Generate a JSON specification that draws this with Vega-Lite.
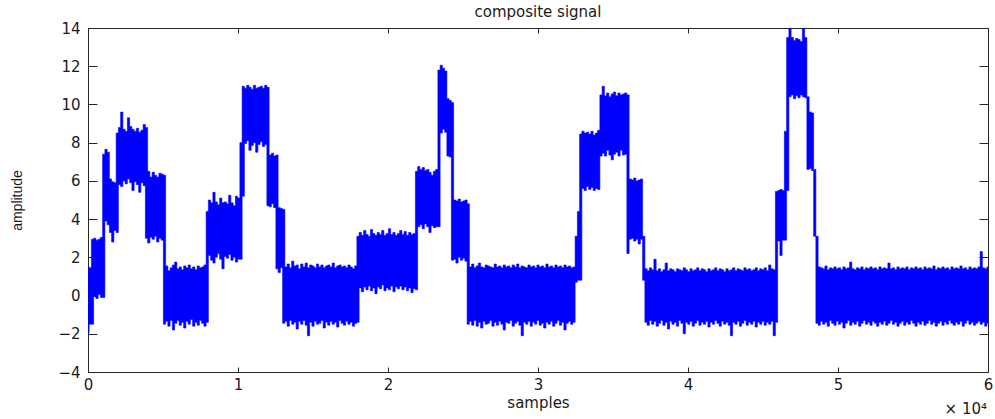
{
"$schema": "https://vega.github.io/schema/vega-lite/v6.json",
"width": 900,
"height": 344,
"autosize": "none",
"padding": {"left": 88, "top": 28, "right": 7, "bottom": 47},
"background": "white",
"config": {"view": {"stroke": "#262626", "strokeWidth": 1}, "font": "DejaVu Sans"},
"title": {"text": "composite signal", "fontSize": 15, "fontWeight": "normal", "color": "#1a1a1a", "font": "DejaVu Sans", "offset": 1, "anchor": "middle"},
"data": {"values": [
{"s":0,"l":-1.95,"h":1.5},{"s":150,"l":-1.5,"h":1.45},
{"s":300,"l":-1.5,"h":2.95},{"s":450,"l":-0.05,"h":3.0},{"s":600,"l":-0.15,"h":2.9},{"s":750,"l":0.05,"h":2.95},{"s":900,"l":-0.1,"h":3.05},
{"s":1050,"l":-0.1,"h":7.4},{"s":1200,"l":3.9,"h":7.65},{"s":1350,"l":3.7,"h":7.5},
{"s":1500,"l":3.3,"h":6.1},{"s":1650,"l":2.8,"h":5.95},{"s":1800,"l":3.4,"h":5.9},
{"s":1950,"l":3.3,"h":8.5},{"s":2100,"l":5.8,"h":8.8},{"s":2250,"l":5.7,"h":9.6},{"s":2400,"l":6.0,"h":8.7},{"s":2550,"l":5.85,"h":8.6},{"s":2700,"l":6.1,"h":9.3},{"s":2850,"l":5.9,"h":8.85},{"s":3000,"l":5.5,"h":8.7},{"s":3150,"l":5.95,"h":8.6},{"s":3300,"l":5.8,"h":8.75},{"s":3450,"l":5.4,"h":8.55},{"s":3600,"l":5.9,"h":8.65},{"s":3750,"l":5.75,"h":8.95},
{"s":3900,"l":3.0,"h":8.8},{"s":4050,"l":2.75,"h":6.5},{"s":4200,"l":3.05,"h":6.2},{"s":4350,"l":2.95,"h":6.45},{"s":4500,"l":3.1,"h":6.3},{"s":4650,"l":2.8,"h":6.2},{"s":4800,"l":3.0,"h":6.4},{"s":4950,"l":2.9,"h":6.35},
{"s":5100,"l":-1.5,"h":6.3},{"s":5250,"l":-1.35,"h":1.55},{"s":5400,"l":-1.6,"h":1.3},{"s":5550,"l":-1.3,"h":1.45},{"s":5700,"l":-1.8,"h":1.6},{"s":5850,"l":-1.45,"h":1.75},{"s":6000,"l":-1.3,"h":1.4},{"s":6150,"l":-1.55,"h":1.5},{"s":6300,"l":-1.4,"h":1.35},{"s":6450,"l":-1.7,"h":1.55},{"s":6600,"l":-1.35,"h":1.45},{"s":6750,"l":-1.5,"h":1.6},{"s":6900,"l":-1.25,"h":1.4},{"s":7050,"l":-1.6,"h":1.5},{"s":7200,"l":-1.4,"h":1.35},{"s":7350,"l":-1.55,"h":1.55},{"s":7500,"l":-1.3,"h":1.45},{"s":7650,"l":-1.45,"h":1.5},{"s":7800,"l":-1.6,"h":1.6},
{"s":7950,"l":-1.4,"h":4.4},{"s":8100,"l":2.1,"h":5.0},{"s":8250,"l":1.85,"h":4.85},{"s":8400,"l":1.7,"h":5.4},{"s":8550,"l":2.0,"h":4.9},{"s":8700,"l":2.2,"h":4.75},{"s":8850,"l":1.9,"h":5.1},{"s":9000,"l":1.4,"h":4.85},{"s":9150,"l":2.05,"h":4.9},{"s":9300,"l":1.95,"h":4.8},{"s":9450,"l":2.15,"h":5.25},{"s":9600,"l":1.85,"h":4.85},{"s":9750,"l":2.0,"h":4.7},{"s":9900,"l":1.75,"h":5.2},{"s":10050,"l":1.9,"h":5.1},
{"s":10200,"l":1.9,"h":8.0},
{"s":10350,"l":5.2,"h":10.95},{"s":10500,"l":7.95,"h":10.85},{"s":10650,"l":8.1,"h":11.0},{"s":10800,"l":7.6,"h":10.9},{"s":10950,"l":7.85,"h":10.8},{"s":11100,"l":8.0,"h":11.0},{"s":11250,"l":7.5,"h":10.85},{"s":11400,"l":7.9,"h":10.9},{"s":11550,"l":8.05,"h":10.95},{"s":11700,"l":7.8,"h":10.85},{"s":11850,"l":7.9,"h":11.0},
{"s":12000,"l":4.7,"h":10.9},{"s":12150,"l":4.65,"h":7.35},{"s":12300,"l":4.8,"h":7.45},{"s":12450,"l":4.6,"h":7.3},
{"s":12600,"l":1.4,"h":7.35},{"s":12750,"l":1.2,"h":4.6},{"s":12900,"l":1.45,"h":4.55},
{"s":13050,"l":-1.45,"h":4.5},{"s":13200,"l":-1.35,"h":1.5},{"s":13350,"l":-1.6,"h":1.65},{"s":13500,"l":-1.3,"h":1.45},{"s":13650,"l":-1.5,"h":1.8},{"s":13800,"l":-1.4,"h":1.55},{"s":13950,"l":-1.75,"h":1.6},{"s":14100,"l":-1.35,"h":1.4},{"s":14250,"l":-1.5,"h":1.65},{"s":14400,"l":-1.3,"h":1.5},{"s":14550,"l":-1.55,"h":1.7},{"s":14700,"l":-2.1,"h":1.45},{"s":14850,"l":-1.4,"h":1.6},{"s":15000,"l":-1.6,"h":1.55},{"s":15150,"l":-1.35,"h":1.45},{"s":15300,"l":-1.5,"h":1.65},{"s":15450,"l":-1.45,"h":1.5},{"s":15600,"l":-1.3,"h":1.6},{"s":15750,"l":-1.7,"h":1.45},{"s":15900,"l":-1.4,"h":1.55},{"s":16050,"l":-1.55,"h":1.6},{"s":16200,"l":-1.35,"h":1.5},{"s":16350,"l":-1.5,"h":1.7},{"s":16500,"l":-1.4,"h":1.45},{"s":16650,"l":-1.65,"h":1.55},{"s":16800,"l":-1.3,"h":1.6},{"s":16950,"l":-1.45,"h":1.5},{"s":17100,"l":-1.55,"h":1.55},{"s":17250,"l":-1.35,"h":1.45},{"s":17400,"l":-1.5,"h":1.6},{"s":17550,"l":-1.4,"h":1.5},{"s":17700,"l":-1.6,"h":1.4},{"s":17850,"l":-1.45,"h":1.55},
{"s":18000,"l":-1.4,"h":3.1},{"s":18150,"l":0.4,"h":3.3},{"s":18300,"l":0.2,"h":3.15},{"s":18450,"l":0.45,"h":3.4},{"s":18600,"l":0.3,"h":3.2},{"s":18750,"l":0.5,"h":3.1},{"s":18900,"l":0.25,"h":3.45},{"s":19050,"l":0.4,"h":3.25},{"s":19200,"l":0.1,"h":3.15},{"s":19350,"l":0.45,"h":3.3},{"s":19500,"l":0.35,"h":3.2},{"s":19650,"l":0.55,"h":3.4},{"s":19800,"l":0.25,"h":3.15},{"s":19950,"l":0.4,"h":3.25},{"s":20100,"l":0.3,"h":3.5},{"s":20250,"l":0.5,"h":3.2},{"s":20400,"l":0.2,"h":3.3},{"s":20550,"l":0.45,"h":3.15},{"s":20700,"l":0.35,"h":3.25},{"s":20850,"l":0.5,"h":3.4},{"s":21000,"l":0.3,"h":3.2},{"s":21150,"l":0.45,"h":3.35},{"s":21300,"l":0.25,"h":3.15},{"s":21450,"l":0.4,"h":3.3},{"s":21600,"l":0.15,"h":3.2},{"s":21750,"l":0.35,"h":3.25},
{"s":21900,"l":0.3,"h":6.5},{"s":22050,"l":3.6,"h":6.75},{"s":22200,"l":3.7,"h":6.6},{"s":22350,"l":3.5,"h":6.7},{"s":22500,"l":3.75,"h":6.55},{"s":22650,"l":3.6,"h":6.6},{"s":22800,"l":3.3,"h":6.45},{"s":22950,"l":3.65,"h":6.3},{"s":23100,"l":3.55,"h":6.5},{"s":23250,"l":3.6,"h":6.6},
{"s":23400,"l":3.6,"h":11.8},{"s":23550,"l":8.5,"h":12.05},{"s":23700,"l":8.7,"h":11.9},{"s":23850,"l":8.55,"h":11.75},
{"s":24000,"l":7.3,"h":10.3},{"s":24150,"l":7.25,"h":10.2},
{"s":24300,"l":1.85,"h":10.1},{"s":24450,"l":1.9,"h":5.0},{"s":24600,"l":1.7,"h":4.95},{"s":24750,"l":2.0,"h":5.05},{"s":24900,"l":1.85,"h":4.9},{"s":25050,"l":1.95,"h":4.95},{"s":25200,"l":1.8,"h":5.0},
{"s":25350,"l":-1.5,"h":4.8},{"s":25500,"l":-1.35,"h":1.5},{"s":25650,"l":-1.55,"h":1.65},{"s":25800,"l":-1.3,"h":1.45},{"s":25950,"l":-1.6,"h":1.55},{"s":26100,"l":-1.4,"h":1.7},{"s":26250,"l":-1.7,"h":1.5},{"s":26400,"l":-1.35,"h":1.45},{"s":26550,"l":-1.5,"h":1.6},{"s":26700,"l":-1.45,"h":1.55},{"s":26850,"l":-1.3,"h":1.5},{"s":27000,"l":-1.6,"h":1.45},{"s":27150,"l":-1.4,"h":1.65},{"s":27300,"l":-1.55,"h":1.5},{"s":27450,"l":-1.35,"h":1.55},{"s":27600,"l":-1.5,"h":1.45},{"s":27750,"l":-1.8,"h":1.6},{"s":27900,"l":-1.4,"h":1.5},{"s":28050,"l":-1.45,"h":1.55},{"s":28200,"l":-1.3,"h":1.45},{"s":28350,"l":-1.6,"h":1.6},{"s":28500,"l":-1.45,"h":1.5},{"s":28650,"l":-1.35,"h":1.65},{"s":28800,"l":-1.55,"h":1.45},{"s":28950,"l":-2.1,"h":1.55},{"s":29100,"l":-1.4,"h":1.5},{"s":29250,"l":-1.5,"h":1.45},{"s":29400,"l":-1.35,"h":1.6},{"s":29550,"l":-1.6,"h":1.5},{"s":29700,"l":-1.4,"h":1.55},{"s":29850,"l":-1.5,"h":1.45},{"s":30000,"l":-1.3,"h":1.6},{"s":30150,"l":-1.55,"h":1.5},{"s":30300,"l":-1.45,"h":1.55},{"s":30450,"l":-1.7,"h":1.45},{"s":30600,"l":-1.4,"h":1.65},{"s":30750,"l":-1.5,"h":1.5},{"s":30900,"l":-1.35,"h":1.55},{"s":31050,"l":-1.6,"h":1.45},{"s":31200,"l":-1.45,"h":1.6},{"s":31350,"l":-1.3,"h":1.5},{"s":31500,"l":-1.55,"h":1.55},{"s":31650,"l":-1.4,"h":1.45},{"s":31800,"l":-1.8,"h":1.6},{"s":31950,"l":-1.45,"h":1.5},{"s":32100,"l":-1.35,"h":1.55},{"s":32250,"l":-1.5,"h":1.45},{"s":32400,"l":-1.4,"h":1.5},
{"s":32550,"l":0.7,"h":3.1},{"s":32700,"l":0.8,"h":4.4},
{"s":32850,"l":0.8,"h":8.45},{"s":33000,"l":5.6,"h":8.6},{"s":33150,"l":5.5,"h":8.5},{"s":33300,"l":5.7,"h":8.55},{"s":33450,"l":5.55,"h":8.45},{"s":33600,"l":5.65,"h":8.6},{"s":33750,"l":5.5,"h":8.4},{"s":33900,"l":5.6,"h":8.5},{"s":34050,"l":5.55,"h":8.65},
{"s":34200,"l":7.3,"h":10.5},{"s":34350,"l":7.45,"h":10.95},{"s":34500,"l":7.3,"h":10.45},{"s":34650,"l":7.6,"h":10.6},{"s":34800,"l":7.35,"h":10.4},{"s":34950,"l":7.1,"h":10.55},{"s":35100,"l":7.4,"h":10.65},{"s":35250,"l":7.5,"h":10.45},{"s":35400,"l":7.3,"h":10.6},{"s":35550,"l":7.6,"h":10.5},{"s":35700,"l":7.35,"h":10.55},{"s":35850,"l":7.4,"h":10.6},
{"s":36000,"l":2.2,"h":10.5},{"s":36150,"l":2.95,"h":6.1},{"s":36300,"l":3.0,"h":6.05},{"s":36450,"l":2.85,"h":6.15},{"s":36600,"l":2.95,"h":6.0},{"s":36750,"l":2.7,"h":6.05},{"s":36900,"l":2.95,"h":6.1},
{"s":37050,"l":0.8,"h":3.1},
{"s":37200,"l":-1.4,"h":1.4},{"s":37350,"l":-1.55,"h":1.3},{"s":37500,"l":-1.3,"h":1.45},{"s":37650,"l":-1.5,"h":1.35},{"s":37800,"l":-1.35,"h":1.9},{"s":37950,"l":-1.6,"h":1.3},{"s":38100,"l":-1.45,"h":1.4},{"s":38250,"l":-1.3,"h":1.25},{"s":38400,"l":-1.55,"h":1.35},{"s":38550,"l":-1.4,"h":1.7},{"s":38700,"l":-1.75,"h":1.3},{"s":38850,"l":-1.35,"h":1.4},{"s":39000,"l":-1.5,"h":1.35},{"s":39150,"l":-1.4,"h":1.25},{"s":39300,"l":-1.6,"h":1.4},{"s":39450,"l":-1.3,"h":1.35},{"s":39600,"l":-1.45,"h":1.3},{"s":39750,"l":-2.0,"h":1.45},{"s":39900,"l":-1.4,"h":1.35},{"s":40050,"l":-1.5,"h":1.25},{"s":40200,"l":-1.35,"h":1.4},{"s":40350,"l":-1.6,"h":1.3},{"s":40500,"l":-1.45,"h":1.35},{"s":40650,"l":-1.3,"h":1.45},{"s":40800,"l":-1.55,"h":1.3},{"s":40950,"l":-1.4,"h":1.4},{"s":41100,"l":-1.5,"h":1.35},{"s":41250,"l":-1.35,"h":1.25},{"s":41400,"l":-1.65,"h":1.4},{"s":41550,"l":-1.4,"h":1.3},{"s":41700,"l":-1.5,"h":1.35},{"s":41850,"l":-1.3,"h":1.45},{"s":42000,"l":-1.45,"h":1.3},{"s":42150,"l":-1.6,"h":1.4},{"s":42300,"l":-1.35,"h":1.35},{"s":42450,"l":-1.5,"h":1.25},{"s":42600,"l":-1.4,"h":1.4},{"s":42750,"l":-1.55,"h":1.3},{"s":42900,"l":-2.1,"h":1.35},{"s":43050,"l":-1.4,"h":1.45},{"s":43200,"l":-1.5,"h":1.3},{"s":43350,"l":-1.35,"h":1.4},{"s":43500,"l":-1.6,"h":1.35},{"s":43650,"l":-1.45,"h":1.3},{"s":43800,"l":-1.3,"h":1.45},{"s":43950,"l":-1.55,"h":1.35},{"s":44100,"l":-1.4,"h":1.4},{"s":44250,"l":-1.5,"h":1.3},{"s":44400,"l":-1.35,"h":1.35},{"s":44550,"l":-1.65,"h":1.45},{"s":44700,"l":-1.4,"h":1.3},{"s":44850,"l":-1.5,"h":1.4},{"s":45000,"l":-1.35,"h":1.35},{"s":45150,"l":-1.55,"h":1.45},{"s":45300,"l":-1.4,"h":1.3},{"s":45450,"l":-1.5,"h":1.6},{"s":45600,"l":-1.35,"h":1.4},{"s":45750,"l":-2.1,"h":1.35},
{"s":45900,"l":-1.4,"h":5.45},{"s":46050,"l":2.85,"h":5.5},{"s":46200,"l":2.1,"h":5.55},{"s":46350,"l":2.9,"h":5.5},
{"s":46500,"l":2.9,"h":8.6},
{"s":46650,"l":5.5,"h":13.5},{"s":46800,"l":10.4,"h":14.0},{"s":46950,"l":10.5,"h":13.5},{"s":47100,"l":10.3,"h":13.35},{"s":47250,"l":10.45,"h":13.45},{"s":47400,"l":10.35,"h":13.4},{"s":47550,"l":10.5,"h":13.3},{"s":47700,"l":10.4,"h":14.0},{"s":47850,"l":10.35,"h":13.5},
{"s":48000,"l":6.6,"h":10.4},{"s":48150,"l":6.65,"h":9.6},{"s":48300,"l":6.55,"h":9.55},
{"s":48450,"l":3.1,"h":6.6},
{"s":48600,"l":-1.45,"h":3.1},{"s":48750,"l":-1.55,"h":1.5},{"s":48900,"l":-1.35,"h":1.45},{"s":49050,"l":-1.5,"h":1.4},{"s":49200,"l":-1.4,"h":1.55},{"s":49350,"l":-1.6,"h":1.35},{"s":49500,"l":-1.3,"h":1.45},{"s":49650,"l":-1.45,"h":1.4},{"s":49800,"l":-1.55,"h":1.5},{"s":49950,"l":-1.35,"h":1.4},{"s":50100,"l":-1.5,"h":1.45},{"s":50250,"l":-1.4,"h":1.35},{"s":50400,"l":-1.7,"h":1.5},{"s":50550,"l":-1.45,"h":1.4},{"s":50700,"l":-1.3,"h":1.45},{"s":50850,"l":-1.55,"h":1.75},{"s":51000,"l":-1.4,"h":1.4},{"s":51150,"l":-1.5,"h":1.35},{"s":51300,"l":-1.35,"h":1.45},{"s":51450,"l":-1.6,"h":1.4},{"s":51600,"l":-1.45,"h":1.5},{"s":51750,"l":-1.3,"h":1.35},{"s":51900,"l":-1.5,"h":1.45},{"s":52050,"l":-1.4,"h":1.4},{"s":52200,"l":-1.55,"h":1.5},{"s":52350,"l":-1.35,"h":1.4},{"s":52500,"l":-1.45,"h":1.45},{"s":52650,"l":-1.6,"h":1.35},{"s":52800,"l":-1.4,"h":1.5},{"s":52950,"l":-1.5,"h":1.4},{"s":53100,"l":-1.35,"h":1.45},{"s":53250,"l":-1.55,"h":1.4},{"s":53400,"l":-1.45,"h":1.7},{"s":53550,"l":-1.3,"h":1.4},{"s":53700,"l":-1.5,"h":1.45},{"s":53850,"l":-1.4,"h":1.35},{"s":54000,"l":-1.6,"h":1.5},{"s":54150,"l":-1.45,"h":1.4},{"s":54300,"l":-1.35,"h":1.45},{"s":54450,"l":-1.55,"h":1.4},{"s":54600,"l":-1.4,"h":1.5},{"s":54750,"l":-1.5,"h":1.35},{"s":54900,"l":-1.3,"h":1.45},{"s":55050,"l":-1.45,"h":1.4},{"s":55200,"l":-1.6,"h":1.5},{"s":55350,"l":-1.4,"h":1.4},{"s":55500,"l":-1.5,"h":1.45},{"s":55650,"l":-1.35,"h":1.35},{"s":55800,"l":-1.55,"h":1.5},{"s":55950,"l":-1.45,"h":1.4},{"s":56100,"l":-1.3,"h":1.45},{"s":56250,"l":-1.5,"h":1.4},{"s":56400,"l":-1.4,"h":1.55},{"s":56550,"l":-1.6,"h":1.35},{"s":56700,"l":-1.45,"h":1.45},{"s":56850,"l":-1.35,"h":1.4},{"s":57000,"l":-1.55,"h":1.5},{"s":57150,"l":-1.4,"h":1.4},{"s":57300,"l":-1.5,"h":1.45},{"s":57450,"l":-1.3,"h":1.35},{"s":57600,"l":-1.45,"h":1.5},{"s":57750,"l":-1.55,"h":1.4},{"s":57900,"l":-1.4,"h":1.45},{"s":58050,"l":-1.5,"h":1.4},{"s":58200,"l":-1.35,"h":1.55},{"s":58350,"l":-1.6,"h":1.4},{"s":58500,"l":-1.45,"h":1.45},{"s":58650,"l":-1.3,"h":1.35},{"s":58800,"l":-1.5,"h":1.5},{"s":58950,"l":-1.4,"h":1.4},{"s":59100,"l":-1.55,"h":1.45},{"s":59250,"l":-1.45,"h":1.4},{"s":59400,"l":-1.35,"h":1.5},{"s":59550,"l":-1.5,"h":2.3},{"s":59700,"l":-1.4,"h":1.45},{"s":59850,"l":-1.6,"h":1.4},{"s":60000,"l":-1.45,"h":1.5}
]},
"layer": [
{
"mark": {"type": "area", "color": "#0000ff", "interpolate": "step", "clip": true, "opacity": 1, "stroke": "#0000ff", "strokeWidth": 0.6},
"encoding": {
"x": {"field": "s", "type": "quantitative", "scale": {"domain": [0, 60000], "nice": false, "zero": false},
"axis": {"orient": "bottom", "values": [0,10000,20000,30000,40000,50000,60000], "labelExpr": "datum.value / 10000", "tickSize": -5, "tickColor": "#262626", "domain": false, "grid": false, "labelFlush": false, "labelPadding": 10, "labelFontSize": 15, "labelColor": "#1a1a1a", "labelFont": "DejaVu Sans", "title": "samples", "titleFont": "DejaVu Sans", "titleFontSize": 15, "titleFontWeight": "normal", "titleColor": "#1a1a1a", "titlePadding": 3}},
"y": {"field": "l", "type": "quantitative", "scale": {"domain": [-4, 14], "nice": false, "zero": false},
"axis": {"orient": "left", "values": [-4,-2,0,2,4,6,8,10,12,14], "tickSize": -9, "tickColor": "#262626", "domain": false, "grid": false, "labelFlush": false, "labelPadding": 17, "labelFontSize": 15, "labelColor": "#1a1a1a", "labelFont": "DejaVu Sans", "title": "amplitude", "titleFont": "Liberation Sans", "titleFontSize": 14, "titleFontWeight": "normal", "titleColor": "#1a1a1a", "titlePadding": 33}},
"y2": {"field": "h"}
}
},
{
"data": {"values": [{}]},
"mark": {"type": "text", "text": "× 10⁴", "align": "right", "baseline": "middle", "dx": -1, "dy": 37, "fontSize": 15, "font": "DejaVu Sans", "color": "#1a1a1a"},
"encoding": {
"x": {"datum": 60000, "type": "quantitative", "axis": {"orient": "top", "values": [0,10000,20000,30000,40000,50000,60000], "tickSize": -5, "tickColor": "#262626", "labels": false, "domain": false, "grid": false, "title": null}},
"y": {"datum": -4, "type": "quantitative", "axis": {"orient": "right", "values": [-4,-2,0,2,4,6,8,10,12,14], "tickSize": -9, "tickColor": "#262626", "labels": false, "domain": false, "grid": false, "title": null}}
}
}
],
"resolve": {"axis": {"x": "independent", "y": "independent"}}
}
